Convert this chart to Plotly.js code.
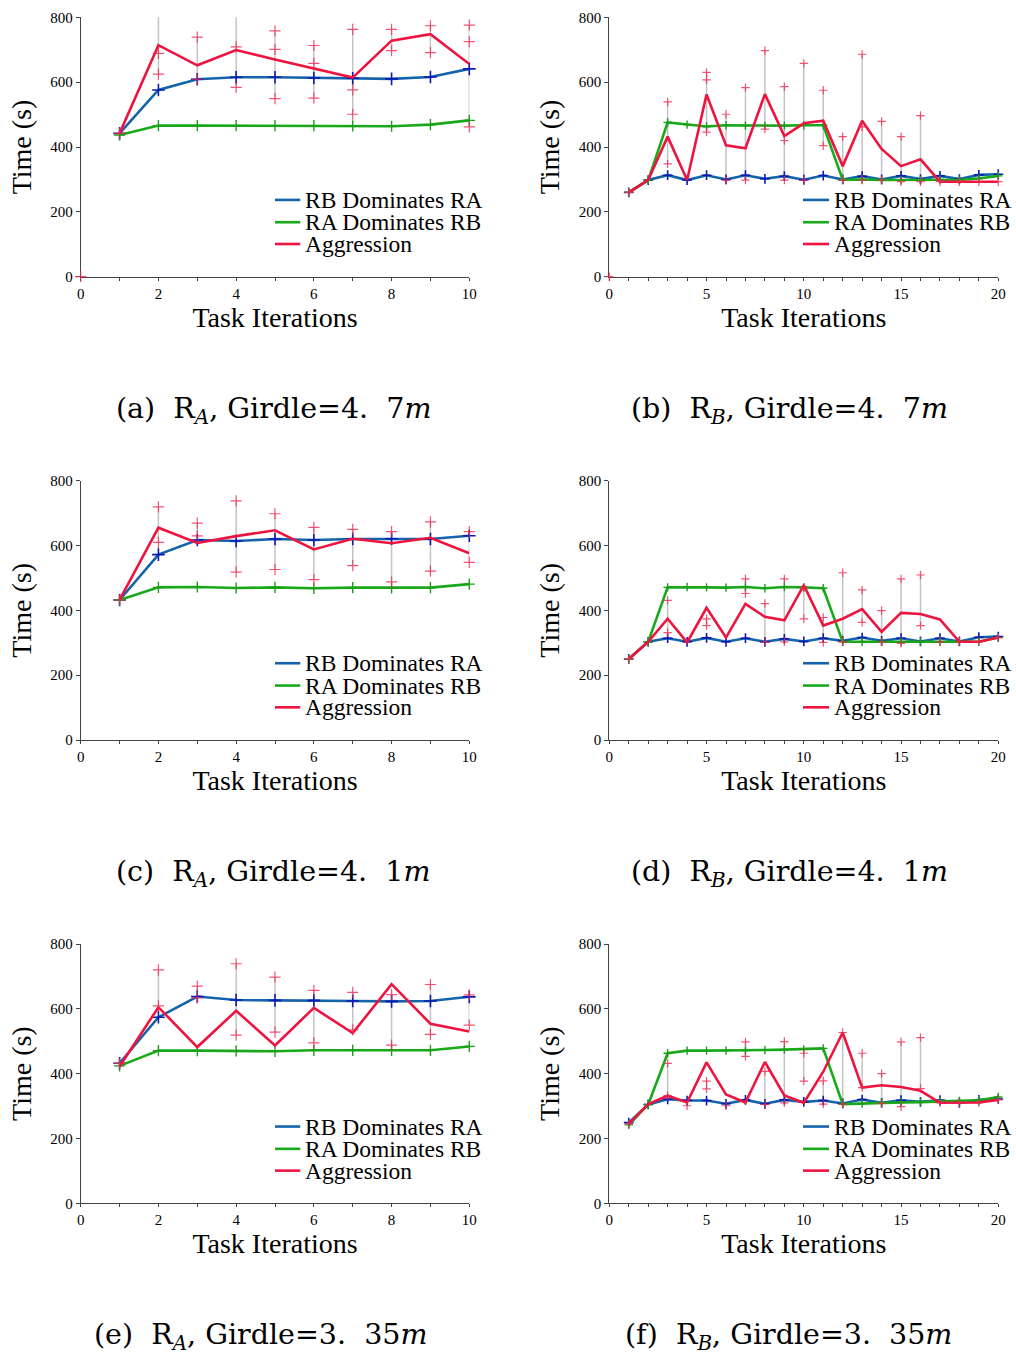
<!DOCTYPE html>
<html>
<head>
<meta charset="utf-8">
<script src="https://cdn.plot.ly/plotly-3.0.1.min.js"></script>
<style>body{margin:0;background:#fff}#chart{width:1016px;height:1358px}</style>
</head>
<body>
<div id="chart"></div>
<script>
// ---------- data ----------
const xTen = [1,2,3,4,5,6,7,8,9,10];
const xTwenty = [1,2,3,4,5,6,7,8,9,10,11,12,13,14,15,16,17,18,19,20];
const seriesNames = ["RB Dominates RA", "RA Dominates RB", "Aggression"];

// (a) RA, Girdle=4.7m
const aBlue  = [442,576,609,615,615,613,612,610,616,641];
const aGreen = [437,466,466,466,466,466,465,464,469,482];
const aRed   = [442,714,652,699,670,641,614,728,748,656];
const aMarkX = [0,1,2,2,2,3,3,4,4,4,5,5,5,6,6,6,7,7,7,8,8,9,9,10,10,10];
const aMarkY = [0,442,826,689,625,739,609,804,709,584,758,701,549,713,658,551,763,576,501,763,697,774,691,776,725,462];

// (b) RB, Girdle=4.7m
const bBlue  = [260,298,313,298,313,300,313,302,310,299,312,300,310,300,311,301,311,301,314,316];
const bGreen = [260,298,476,469,463,467,466,466,466,467,467,299,300,298,298,298,300,299,303,311];
const bRed   = [260,298,432,298,562,405,396,563,434,473,481,341,481,394,341,362,293,293,293,293];
const bMarkX = [0,1,3,3,5,5,5,6,6,7,7,8,8,9,9,9,10,10,11,11,12,12,13,13,13,14,14,15,15,16,16,17,18,19,20];
const bMarkY = [0,260,539,348,630,607,446,501,298,583,298,697,455,586,420,298,658,298,575,404,432,298,686,462,298,479,298,432,293,497,293,293,293,293,293];

// (c) RA, Girdle=4.1m
const cBlue  = [432,572,617,614,620,617,620,621,620,630];
const cGreen = [432,471,472,469,471,468,470,469,470,481];
const cRed   = [432,655,608,629,647,588,621,607,624,576];
const cMarkX = [1,2,2,3,3,4,4,5,5,6,6,7,7,8,8,9,9,10,10];
const cMarkY = [432,719,610,669,630,738,518,698,526,656,495,650,538,643,488,673,521,643,548];

// (d) RB, Girdle=4.1m
const dBlue  = [250,303,314,303,315,303,314,303,312,304,314,306,316,306,314,304,314,304,317,319];
const dGreen = [250,303,471,472,471,470,472,468,472,471,468,303,303,303,303,303,303,303,303,316];
const dRed   = [250,303,374,301,408,316,420,380,369,478,353,374,404,334,392,389,372,303,303,316];
const dMarkX = [1,3,3,5,5,7,7,8,8,9,9,10,10,11,11,12,12,13,13,14,14,15,15,16,16,17,18,19,20];
const dMarkY = [250,431,331,374,353,497,452,421,303,497,303,470,374,378,301,516,303,463,363,399,303,497,298,509,353,303,303,303,316];

// (e) RA, Girdle=3.35m
const eBlue  = [432,574,638,627,626,626,624,623,624,637];
const eGreen = [424,471,471,470,469,472,472,472,472,484];
const eRed   = [422,605,482,594,487,603,525,676,554,530];
const eMarkX = [1,2,2,3,3,4,4,5,5,6,6,7,7,8,8,9,9,10,10];
const eMarkY = [432,720,609,670,634,739,519,698,528,657,495,651,535,644,488,675,521,643,550];

// (f) RB, Girdle=3.35m
const fBlue  = [249,305,321,317,317,307,319,307,319,313,317,308,320,310,318,313,318,310,319,322];
const fGreen = [242,305,463,471,471,471,471,473,474,475,478,306,308,311,311,312,315,316,318,328];
const fRed   = [245,306,332,311,435,336,311,436,333,310,406,527,357,364,359,347,310,310,311,319];
const fMarkX = [1,3,3,4,5,5,6,7,7,8,8,9,9,10,10,11,11,12,12,13,13,14,14,15,15,16,16,17,18,19,20];
const fMarkY = [245,432,332,301,377,353,301,498,453,407,305,499,310,463,377,378,306,527,306,463,357,400,308,498,298,511,354,310,310,310,319];

const captions = [
  "(a)\u00a0\u00a0R<sub><i>A</i></sub>, Girdle=4.\u00a0\u00a07<i>m</i>",
  "(b)\u00a0\u00a0R<sub><i>B</i></sub>, Girdle=4.\u00a0\u00a07<i>m</i>",
  "(c)\u00a0\u00a0R<sub><i>A</i></sub>, Girdle=4.\u00a0\u00a01<i>m</i>",
  "(d)\u00a0\u00a0R<sub><i>B</i></sub>, Girdle=4.\u00a0\u00a01<i>m</i>",
  "(e)\u00a0\u00a0R<sub><i>A</i></sub>, Girdle=3.\u00a0\u00a035<i>m</i>",
  "(f)\u00a0\u00a0R<sub><i>B</i></sub>, Girdle=3.\u00a0\u00a035<i>m</i>"
];
const yTicks = [0,200,400,600,800];

// ---------- styles ----------
const FONT = "'Liberation Serif', 'Times New Roman', serif";
const CAPFONT = "'DejaVu Serif', 'Liberation Serif', serif";
const BLUE = "#1464ac", GREEN = "#18aa18", RED = "#ee1440";
const W = 1016, H = 1358;

const panels = [
  {x:xTen, blue:aBlue, green:aGreen, red:aRed, mx:aMarkX, my:aMarkY, xmax:10, col:0, row:0},
  {x:xTwenty, blue:bBlue, green:bGreen, red:bRed, mx:bMarkX, my:bMarkY, xmax:20, col:1, row:0},
  {x:xTen, blue:cBlue, green:cGreen, red:cRed, mx:cMarkX, my:cMarkY, xmax:10, col:0, row:1},
  {x:xTwenty, blue:dBlue, green:dGreen, red:dRed, mx:dMarkX, my:dMarkY, xmax:20, col:1, row:1},
  {x:xTen, blue:eBlue, green:eGreen, red:eRed, mx:eMarkX, my:eMarkY, xmax:10, col:0, row:2},
  {x:xTwenty, blue:fBlue, green:fGreen, red:fRed, mx:fMarkX, my:fMarkY, xmax:20, col:1, row:2}
];

const colX = [[80.7, 469.3], [609.3, 998.3]];
const rowY = [[17.3, 276.7], [480.7, 740], [944, 1203.3]];
const capPos = [[273,410],[789,410],[273,873],[789,873],[260,1336],[788,1336]];

const traces = [];
const layout = {
  width: W, height: H, margin:{l:0,r:0,t:0,b:0},
  paper_bgcolor:"#fff", plot_bgcolor:"#fff",
  showlegend:false, font:{family:FONT, color:"#000"},
  annotations:[], shapes:[]
};

panels.forEach((p, i) => {
  const n = i === 0 ? "" : String(i+1);
  const xa = "x"+n, ya = "y"+n;
  const big = p.xmax === 10;

  // range bars from marks
  const ux = [...new Set(p.mx)].filter(v => v > 0);
  const lo = [], up = [];
  ux.forEach(v => {
    const ys = p.my.filter((y, k) => p.mx[k] === v);
    lo.push(Math.min(...ys)); up.push(Math.max(...ys));
  });
  traces.push({
    type:"scatter", mode:"markers", x:ux, y:lo, xaxis:xa, yaxis:ya,
    marker:{size:1, opacity:0}, cliponaxis:false, hoverinfo:"skip",
    error_y:{type:"data", symmetric:false, array:up.map((u,k)=>u-lo[k]), arrayminus:lo.map(()=>0),
             color:"#c4c4c4", thickness:1.5, width:0}
  });
  const mk = (c, s, w) => ({symbol:"cross-thin", size:s, line:{color:c, width:w}});
  traces.push({type:"scatter", mode:"lines+markers", name:seriesNames[0], x:p.x, y:p.blue, xaxis:xa, yaxis:ya,
    line:{color:BLUE, width:2.6}, marker:mk("#0a1ab4", big?9:7, 1.6), cliponaxis:false});
  traces.push({type:"scatter", mode:"lines+markers", name:seriesNames[1], x:p.x, y:p.green, xaxis:xa, yaxis:ya,
    line:{color:GREEN, width:2.6}, marker:mk("#1c9e1c", big?8:6, 1.4), cliponaxis:false});
  traces.push({type:"scatter", mode:"lines", name:seriesNames[2], x:p.x, y:p.red, xaxis:xa, yaxis:ya,
    line:{color:RED, width:2.6}, cliponaxis:false});
  traces.push({type:"scatter", mode:"markers", x:p.mx, y:p.my, xaxis:xa, yaxis:ya,
    marker:mk("rgba(240,40,80,0.8)", big?8:6, 1.2), cliponaxis:false, hoverinfo:"skip"});

  const cx = colX[p.col], ry = rowY[p.row];
  const tv = [], tt = [];
  for (let v = 0; v <= p.xmax; v++) { tv.push(v); tt.push(big ? (v%2===0 ? String(v) : "") : (v%5===0 ? String(v) : "")); }
  layout["xaxis"+n] = {
    domain:[cx[0]/W, cx[1]/W], anchor:ya, range:[0, p.xmax],
    tickmode:"array", tickvals:tv, ticktext:tt, ticks:"outside", ticklen:3, tickwidth:1, tickcolor:"#444",
    showline:true, linecolor:"#444", linewidth:1, showgrid:false, zeroline:false,
    tickfont:{size:15, family:FONT, color:"#000"}, layer:"below traces",
    title:{text:"Task Iterations", font:{size:28, family:FONT, color:"#000"}, standoff:4}
  };
  layout["yaxis"+n] = {
    domain:[1-ry[1]/H, 1-ry[0]/H], anchor:xa, range:[0,800],
    tickmode:"array", tickvals:yTicks, ticks:"outside", ticklen:4, tickwidth:1, tickcolor:"#444",
    showline:true, linecolor:"#444", linewidth:1, showgrid:false, zeroline:false,
    tickfont:{size:15, family:FONT, color:"#000"}, layer:"below traces",
    title:{text:"Time (s)", font:{size:28, family:FONT, color:"#000"}, standoff:10}
  };

  // legend (per panel)
  const legY = [0.296, 0.210, 0.126];
  const cols = [BLUE, GREEN, RED];
  const lx0 = big ? 0.500 : 0.498;
  legY.forEach((yy, k) => {
    layout.shapes.push({type:"line", xref:xa+" domain", yref:ya+" domain",
      x0:lx0, x1:0.565, y0:yy, y1:yy, line:{color:cols[k], width:2.6}});
    layout.annotations.push({xref:xa+" domain", yref:ya+" domain", x:0.572, y:yy,
      xanchor:"left", yanchor:"middle", showarrow:false, text:seriesNames[k],
      font:{size:23.5, family:FONT, color:"#000"}});
  });

  // caption
  layout.annotations.push({xref:"paper", yref:"paper", x:capPos[i][0]/W, y:1-capPos[i][1]/H,
    xanchor:"center", yanchor:"middle", showarrow:false, text:captions[i],
    font:{size:28.5, family:CAPFONT, color:"#000"}});
});

Plotly.newPlot("chart", traces, layout, {staticPlot:true});
</script>
</body>
</html>
